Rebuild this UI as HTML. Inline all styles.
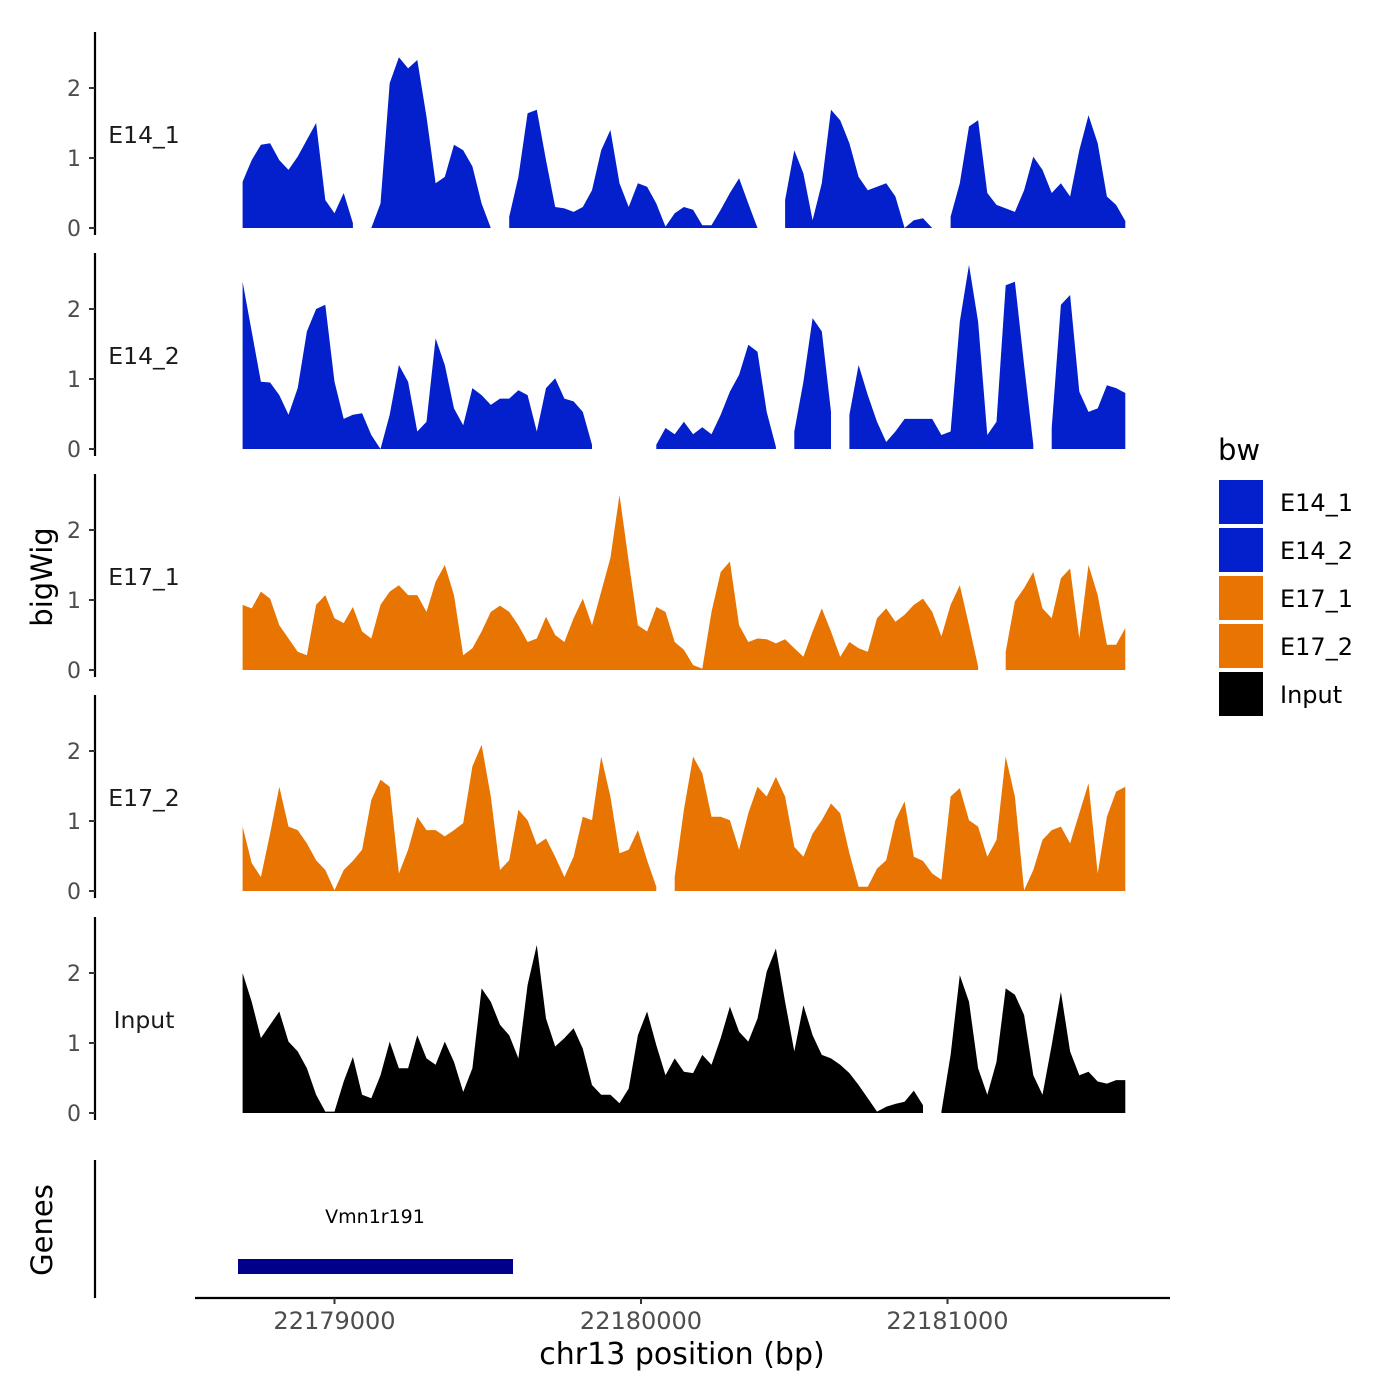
<!DOCTYPE html>
<html><head><meta charset="utf-8"><style>
html,body{margin:0;padding:0;background:#fff;}
svg{display:block;font-family:"DejaVu Sans","Liberation Sans",sans-serif;}
</style></head><body>
<svg id="chart" width="1400" height="1400" viewBox="0 0 1400 1400">
<g id="tracks"></g>
<g id="axes"></g>
<text x="52" y="577" transform="rotate(-90 52 577)" text-anchor="middle" font-size="29" fill="#000">bigWig</text>
<text x="52" y="1230" transform="rotate(-90 52 1230)" text-anchor="middle" font-size="29" fill="#000">Genes</text>
<line x1="95" y1="1160" x2="95" y2="1298" stroke="#000" stroke-width="2.2"/>
<g>
<rect x="238" y="1259" width="275" height="15" fill="#00008B"/>
<text x="375" y="1223" text-anchor="middle" font-size="19" fill="#000">Vmn1r191</text>
</g>
<line x1="195" y1="1298" x2="1170" y2="1298" stroke="#000" stroke-width="2.2"/>
<g id="xticks"></g>
<text x="682" y="1364" text-anchor="middle" font-size="30" fill="#000">chr13 position (bp)</text>
<g>
<text x="1218" y="460" font-size="29" fill="#000">bw</text>
<g id="legend-items"></g>
</g>
</svg>
<script>
const trackNames = ["E14_1","E14_2","E17_1","E17_2","Input"];
const trackColors = ["#0320CC","#0320CC","#E87502","#E87502","#000000"];
const dataStartBp = 22178700;
const dataStepBp = 30;
const xTickValues = [22179000, 22180000, 22181000];
const yTickValues = [0, 1, 2];
const N = null;
const e14_1 = [0.66,0.97,1.19,1.21,0.97,0.83,1.02,1.26,1.5,0.4,0.21,0.5,0.07,N,0,0.35,2.07,2.44,2.28,2.4,1.59,0.64,0.73,1.19,1.11,0.88,0.35,0,N,0.16,0.73,1.64,1.69,0.97,0.3,0.28,0.23,0.3,0.54,1.11,1.4,0.64,0.3,0.64,0.59,0.35,0.02,0.21,0.3,0.26,0.04,0.04,0.26,0.5,0.71,0.35,0,N,N,0.4,1.11,0.78,0.11,0.64,1.69,1.54,1.21,0.73,0.54,0.59,0.64,0.45,0,0.11,0.14,0,N,0.16,0.64,1.45,1.54,0.5,0.33,0.28,0.23,0.54,1.02,0.83,0.5,0.64,0.45,1.11,1.61,1.21,0.45,0.33,0.1];
const e14_2 = [2.39,1.68,0.96,0.95,0.77,0.49,0.87,1.68,2.0,2.06,0.96,0.43,0.49,0.51,0.2,0,0.49,1.2,0.96,0.25,0.39,1.58,1.2,0.58,0.34,0.87,0.77,0.63,0.72,0.72,0.84,0.77,0.25,0.87,1.01,0.72,0.68,0.53,0.06,N,N,N,N,N,N,0.06,0.3,0.21,0.39,0.21,0.31,0.21,0.49,0.82,1.06,1.49,1.39,0.53,0.03,N,0.25,0.96,1.87,1.68,0.53,N,0.49,1.2,0.77,0.39,0.1,0.25,0.43,0.43,0.43,0.43,0.2,0.25,1.82,2.63,1.82,0.2,0.39,2.34,2.39,1.2,0.06,N,0.3,2.06,2.2,0.82,0.53,0.58,0.91,0.87,0.8];
const e17_1 = [0.93,0.88,1.12,1.02,0.64,0.45,0.26,0.21,0.93,1.07,0.74,0.67,0.9,0.55,0.45,0.93,1.12,1.21,1.07,1.07,0.83,1.26,1.5,1.07,0.21,0.31,0.55,0.83,0.92,0.83,0.64,0.4,0.45,0.76,0.5,0.4,0.74,1.02,0.64,1.12,1.6,2.5,1.55,0.64,0.55,0.9,0.83,0.4,0.29,0.07,0.02,0.83,1.4,1.55,0.64,0.4,0.45,0.44,0.38,0.44,0.31,0.19,0.55,0.88,0.55,0.19,0.4,0.31,0.26,0.74,0.88,0.69,0.79,0.93,1.02,0.83,0.48,0.93,1.21,0.64,0.05,N,N,0.26,0.98,1.17,1.4,0.88,0.74,1.31,1.45,0.45,1.5,1.07,0.36,0.36,0.6];
const e17_2 = [0.92,0.4,0.2,0.82,1.49,0.92,0.87,0.68,0.44,0.3,0.01,0.3,0.43,0.59,1.3,1.59,1.49,0.25,0.59,1.06,0.87,0.87,0.78,0.87,0.97,1.78,2.09,1.35,0.3,0.44,1.16,1.01,0.66,0.75,0.49,0.2,0.49,1.06,1.01,1.92,1.35,0.54,0.59,0.87,0.44,0.06,N,0.2,1.16,1.92,1.68,1.06,1.06,1.01,0.59,1.11,1.49,1.35,1.63,1.35,0.63,0.49,0.82,1.01,1.25,1.11,0.54,0.06,0.06,0.32,0.44,1.01,1.28,0.49,0.43,0.25,0.16,1.35,1.47,1.01,0.92,0.49,0.73,1.92,1.35,0.01,0.3,0.73,0.87,0.92,0.68,1.11,1.54,0.25,1.06,1.42,1.49];
const input = [2.0,1.59,1.07,1.26,1.45,1.02,0.88,0.64,0.26,0.02,0.02,0.45,0.8,0.26,0.21,0.54,1.02,0.64,0.64,1.11,0.78,0.69,1.02,0.73,0.3,0.64,1.78,1.59,1.26,1.11,0.78,1.83,2.4,1.35,0.95,1.07,1.21,0.92,0.4,0.26,0.26,0.14,0.35,1.11,1.45,0.97,0.54,0.78,0.59,0.57,0.83,0.69,1.07,1.52,1.16,1.02,1.35,2.02,2.35,1.59,0.88,1.54,1.11,0.83,0.78,0.69,0.57,0.4,0.21,0.02,0.09,0.13,0.16,0.32,0.11,N,0.02,0.83,1.97,1.59,0.64,0.26,0.73,1.78,1.69,1.4,0.54,0.26,0.97,1.73,0.88,0.54,0.59,0.45,0.42,0.47,0.47];
const trackData = [e14_1, e14_2, e17_1, e17_2, input];

const NS = "http://www.w3.org/2000/svg";
const baselines = [228, 449, 670, 891, 1113];
const pxPerUnit = 70;
function xScale(bp){ return 641 + (bp - 22180000) * 0.3065; }
function yScale(v, t){ return baselines[t] - v * pxPerUnit; }
function mk(tag, attrs, parent){ const e=document.createElementNS(NS,tag); for(const k in attrs) e.setAttribute(k,attrs[k]); parent.appendChild(e); return e; }

const tracksG = document.getElementById("tracks");
const axesG = document.getElementById("axes");
trackData.forEach((vals, t) => {
  const g = mk("g", {}, tracksG);
  
  
  let seg = [];
  const segs = [];
  vals.forEach((v, i) => {
    if (v === null) { if (seg.length) segs.push(seg); seg = []; }
    else seg.push([dataStartBp + i * dataStepBp, v]);
  });
  if (seg.length) segs.push(seg);
  segs.forEach(s => {
    let d = "M" + xScale(s[0][0]).toFixed(1) + "," + baselines[t];
    s.forEach(p => { d += "L" + xScale(p[0]).toFixed(1) + "," + yScale(p[1], t).toFixed(1); });
    d += "L" + xScale(s[s.length-1][0]).toFixed(1) + "," + baselines[t] + "Z";
    const p = mk("path", {d: d, fill: trackColors[t]}, g);
    
    
  });
  const b = baselines[t];
  const ax = mk("line", {x1:95, y1:b-196, x2:95, y2:b+7, stroke:"#000", "stroke-width":2.2}, axesG);
  
  
  yTickValues.forEach(v => {
    const y = yScale(v, t);
    const tk = mk("line", {x1:89, y1:y, x2:95, y2:y, stroke:"#333", "stroke-width":2}, axesG);
    
    
    const lb = mk("text", {x:81, y:y+8, "text-anchor":"end", "font-size":22, fill:"#4d4d4d"}, axesG);
    lb.textContent = v;
    
    
  });
  const tl = mk("text", {x:144, y:b-85, "text-anchor":"middle", "font-size":23.5, fill:"#1a1a1a"}, axesG);
  tl.textContent = trackNames[t];
  
  
});

const xt = document.getElementById("xticks");
xTickValues.forEach(bp => {
  const x = xScale(bp);
  const tk = mk("line", {x1:x, y1:1298, x2:x, y2:1304, stroke:"#333", "stroke-width":2}, xt);
  
  
  const lb = mk("text", {x:x, y:1329, "text-anchor":"middle", "font-size":24, fill:"#4d4d4d"}, xt);
  lb.textContent = bp;
  
  
});

const li = document.getElementById("legend-items");
trackNames.forEach((n, i) => {
  const y = 480 + i * 48;
  const r = mk("rect", {x:1219, y:y, width:44, height:44, fill:trackColors[i]}, li);
  
  
  const tx = mk("text", {x:1280, y:y+31, "font-size":24, fill:"#000"}, li);
  tx.textContent = n;
  
  
});
</script>
</body></html>
